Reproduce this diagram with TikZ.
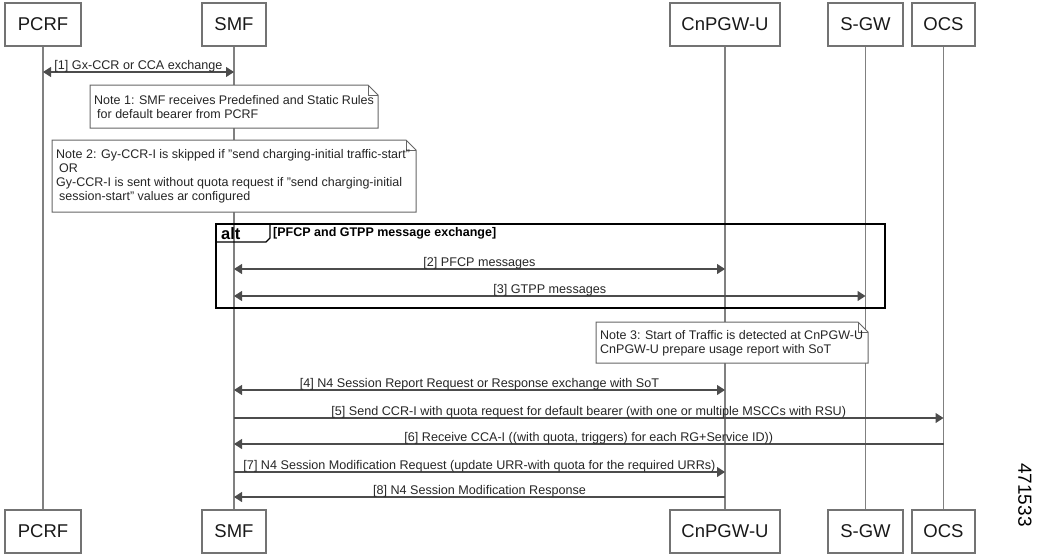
\documentclass[tikz,border=0pt]{standalone}
\usepackage{fontspec}
\setmainfont{Liberation Sans}
\usetikzlibrary{arrows.meta,calc}
\newcommand{\dq}{\symbol{34}}
\begin{document}
\begin{tikzpicture}[x=1pt,y=-1pt,
  actor/.style={draw=black!55, line width=1.1pt, minimum height=43pt, inner sep=0pt,
    font=\fontsize{18.5}{20}\selectfont, text=black!90},
  life/.style={draw=black!50, line width=1.5pt},
  msg/.style={draw=black!70, line width=1.1pt},
  hd/.tip={Triangle[length=8pt,width=10pt]},
  both/.style={msg,hd-hd},
  fwd/.style={msg,-hd},
  lbl/.style={font=\fontsize{12.6}{14}\selectfont, inner sep=0pt, anchor=base, text=black!85},
  notebox/.style={draw=black!60, line width=1pt, fill=white},
  notetxt/.style={font=\fontsize{12.5}{14}\selectfont, align=left, anchor=west, inner sep=0pt, text=black!85},
]
\useasboundingbox (0,0) rectangle (1038,554);

% actors top
\node[actor, minimum width=76pt] (pcrf) at (43,24.5) {PCRF};
\node[actor, minimum width=64pt] (smf) at (234,24.5) {SMF};
\node[actor, minimum width=110pt] (upf) at (725,24.5) {CnPGW-U};
\node[actor, minimum width=75pt] (sgw) at (865.5,24.5) {S-GW};
\node[actor, minimum width=63pt] (ocs) at (943.5,24.5) {OCS};
% actors bottom
\node[actor, minimum width=76pt] (pcrfb) at (43,531.5) {PCRF};
\node[actor, minimum width=64pt] (smfb) at (234,531.5) {SMF};
\node[actor, minimum width=110pt] (upfb) at (725,531.5) {CnPGW-U};
\node[actor, minimum width=75pt] (sgwb) at (865.5,531.5) {S-GW};
\node[actor, minimum width=63pt] (ocsb) at (943.5,531.5) {OCS};

% lifelines
\draw[life] (pcrf.south) -- (pcrfb.north);
\draw[life] (smf.south) -- (smfb.north);
\draw[life] (upf.south) -- (upfb.north);
\draw[life] (sgw.south) -- (sgwb.north);
\draw[life] (ocs.south) -- (ocsb.north);

% message 1
\coordinate (m1a) at (pcrf |- 0,72);
\coordinate (m1b) at (smf |- 0,72);
\draw[both] (m1a) -- (m1b);
\node[lbl] (l1) at ($(m1a)!0.5!(m1b)+(0,-2.5)$) {[1] Gx-CCR or CCA exchange};

% note 1
\draw[notebox] (90,85) -- (368,85) -- (378,95) -- (378,128) -- (90,128) -- cycle;
\draw[black!60, line width=0.8pt] (368,85) -- (368,95) -- (378,95);
\node[notetxt] (n1) at (94,107) {Note 1: SMF receives Predefined and Static Rules\\\hspace{3pt}for default bearer from PCRF};

% note 2
\draw[notebox] (52,140) -- (406,140) -- (416,150) -- (416,212) -- (52,212) -- cycle;
\draw[black!60, line width=0.8pt] (406,140) -- (406,150) -- (416,150);
\node[notetxt] (n2) at (56,176) {Note 2: Gy-CCR-I is skipped if \dq send charging-initial traffic-start\dq\\\hspace{3pt}OR\\Gy-CCR-I is sent without quota request if \dq send charging-initial\\\hspace{3pt}session-start\dq\ values ar configured};

% alt frame
\draw[black, line width=1.6pt] (216,224) rectangle (885,308);
\draw[black, line width=1.4pt] (216,242) -- (266,242) -- (270,238) -- (270,224);
\node[font=\bfseries\fontsize{16.5}{18}\selectfont, anchor=base west, inner sep=0pt] (alt) at (221,239.5) {alt};
\node[font=\bfseries\fontsize{12.5}{14}\selectfont, anchor=base west, inner sep=0pt] (altl) at (273,236) {[PFCP and GTPP message exchange]};

% message 2
\coordinate (m2a) at (smf |- 0,269);
\coordinate (m2b) at (upf |- 0,269);
\draw[both] (m2a) -- (m2b);
\node[lbl] (l2) at ($(m2a)!0.5!(m2b)+(0,-2.5)$) {[2] PFCP messages};

% message 3
\coordinate (m3a) at (smf |- 0,296);
\coordinate (m3b) at (sgw |- 0,296);
\draw[both] (m3a) -- (m3b);
\node[lbl] (l3) at ($(m3a)!0.5!(m3b)+(0,-2.5)$) {[3] GTPP messages};

% note 3
\draw[notebox] (596,322) -- (858,322) -- (868,332) -- (868,363) -- (596,363) -- cycle;
\draw[black!60, line width=0.8pt] (858,322) -- (858,332) -- (868,332);
\node[notetxt] (n3) at (600,343) {Note 3: Start of Traffic is detected at CnPGW-U\\CnPGW-U prepare usage report with SoT};

% message 4
\coordinate (m4a) at (smf |- 0,390);
\coordinate (m4b) at (upf |- 0,390);
\draw[both] (m4a) -- (m4b);
\node[lbl] (l4) at ($(m4a)!0.5!(m4b)+(0,-2.5)$) {[4] N4 Session Report Request or Response exchange with SoT};

% message 5
\coordinate (m5a) at (smf |- 0,418);
\coordinate (m5b) at (ocs |- 0,418);
\draw[fwd] (m5a) -- (m5b);
\node[lbl] (l5) at ($(m5a)!0.5!(m5b)+(0,-2.5)$) {[5] Send CCR-I with quota request for default bearer (with one or multiple MSCCs with RSU)};

% message 6
\coordinate (m6a) at (ocs |- 0,444);
\coordinate (m6b) at (smf |- 0,444);
\draw[fwd] (m6a) -- (m6b);
\node[lbl] (l6) at ($(m6a)!0.5!(m6b)+(0,-2.5)$) {[6] Receive CCA-I ((with quota, triggers) for each RG+Service ID))};

% message 7
\coordinate (m7a) at (smf |- 0,472);
\coordinate (m7b) at (upf |- 0,472);
\draw[fwd] (m7a) -- (m7b);
\node[lbl] (l7) at ($(m7a)!0.5!(m7b)+(0,-2.5)$) {[7] N4 Session Modification Request (update URR-with quota for the required URRs)};

% message 8
\coordinate (m8a) at (upf |- 0,497);
\coordinate (m8b) at (smf |- 0,497);
\draw[fwd] (m8a) -- (m8b);
\node[lbl] (l8) at ($(m8a)!0.5!(m8b)+(0,-2.5)$) {[8] N4 Session Modification Response};

% figure number
\node[rotate=-90, font=\fontsize{19}{20}\selectfont, inner sep=0pt] (fig) at (1025,495) {471533};
\end{tikzpicture}
\end{document}
